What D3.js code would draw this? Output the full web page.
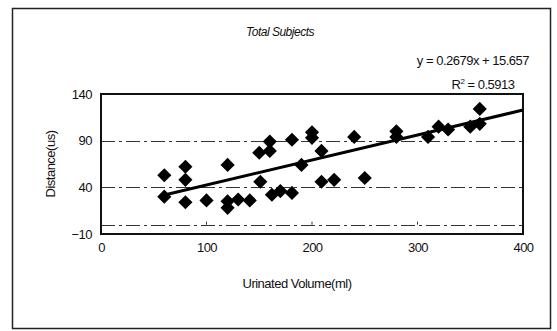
<!DOCTYPE html>
<html>
<head>
<meta charset="utf-8">
<script src="https://cdn.jsdelivr.net/npm/d3@7"></script>
<style>
  body { margin: 0; background: #fff; }
  text { font-family: "Liberation Sans", Arial, sans-serif; fill: #111; letter-spacing: -0.5px; }
</style>
</head>
<body>
<div id="chart"></div>
<script>
// data
var volume = [60, 60, 80, 80, 80, 100, 120, 120, 120, 130, 141, 150, 151, 160, 160, 162,
  170, 181, 181, 190, 200, 200, 209, 209, 221, 240, 250, 280, 280, 310, 320, 329, 350, 359, 359];
var distance = [53, 30, 62, 48, 24, 26, 64, 25, 18, 27, 26, 77, 46, 89, 79, 32,
  36, 91, 34, 64, 99, 93, 79, 46, 48, 94, 50, 100, 94, 94, 105, 102, 105, 124, 108];
var xTicks = [0, 100, 200, 300, 400];
var yTicks = [-10, 40, 90, 140];
var gridVals = [0, 40, 90];
var slope = 0.2679, intercept = 15.657;

var svgWidth = 557, svgHeight = 331,
  plot = {left: 101, right: 523, top: 94, bottom: 234};

var svg = d3.select('#chart').append('svg')
  .attr('width', svgWidth)
  .attr('height', svgHeight);

// outer frame
svg.append('rect')
  .attr('x', 12.5).attr('y', 8.5)
  .attr('width', 538).attr('height', 320)
  .attr('fill', 'none')
  .attr('stroke', '#222')
  .attr('stroke-width', 1.5);

var x = d3.scaleLinear().domain([0, 400]).range([plot.left, plot.right]);
var y = d3.scaleLinear().domain([-10, 140]).range([plot.bottom, plot.top]);

// dash-dot gridlines
svg.selectAll('.grid')
  .data(gridVals)
  .enter().append('line')
  .attr('x1', plot.left).attr('x2', plot.right)
  .attr('y1', function(d) { return Math.round(y(d)) + 0.5; })
  .attr('y2', function(d) { return Math.round(y(d)) + 0.5; })
  .attr('stroke', '#333')
  .attr('stroke-width', 1)
  .attr('stroke-dasharray', '14,4,3,4');

// small ticks on the zero line
svg.selectAll('.ztick')
  .data(xTicks.slice(1, -1))
  .enter().append('line')
  .attr('x1', function(d) { return x(d); })
  .attr('x2', function(d) { return x(d); })
  .attr('y1', y(0)).attr('y2', y(0) - 3)
  .attr('stroke', '#333');

// plot border
svg.append('rect')
  .attr('x', plot.left).attr('y', plot.top)
  .attr('width', plot.right - plot.left)
  .attr('height', plot.bottom - plot.top)
  .attr('fill', 'none')
  .attr('stroke', '#111')
  .attr('stroke-width', 2);

// axes (labels only)
var xAxis = svg.append('g')
  .attr('transform', 'translate(0,' + plot.bottom + ')')
  .call(d3.axisBottom(x).tickValues(xTicks).tickSize(0).tickPadding(9));
var yAxis = svg.append('g')
  .attr('transform', 'translate(' + plot.left + ',0)')
  .call(d3.axisLeft(y).tickValues(yTicks).tickSize(0).tickPadding(9)
    .tickFormat(function(d) { return d < 0 ? '\u2212' + Math.abs(d) : d; }));
[xAxis, yAxis].forEach(function(a) {
  a.select('.domain').remove();
  a.selectAll('text')
    .style('font-family', '"Liberation Sans", Arial, sans-serif')
    .style('font-size', '13px')
    .attr('fill', '#111');
});

// trendline
var lineData = [d3.min(volume), 400].map(function(v) {
  return [v, slope * v + intercept];
});
svg.append('path')
  .datum(lineData)
  .attr('d', d3.line()
    .x(function(d) { return x(d[0]); })
    .y(function(d) { return y(d[1]); }))
  .attr('stroke', '#000')
  .attr('stroke-width', 3)
  .attr('fill', 'none');

// diamonds
var diamond = d3.symbol().type(d3.symbolSquare).size(100);
svg.selectAll('.pt')
  .data(volume)
  .enter().append('path')
  .attr('d', diamond)
  .attr('transform', function(d, i) {
    return 'translate(' + x(d) + ',' + y(distance[i]) + ') rotate(45)';
  })
  .attr('fill', '#000');

// titles
svg.append('text')
  .attr('x', 280).attr('y', 36)
  .attr('text-anchor', 'middle')
  .style('font-size', '12px')
  .style('font-style', 'italic')
  .text('Total Subjects');

svg.append('text')
  .attr('x', 529).attr('y', 65)
  .attr('text-anchor', 'end')
  .style('font-size', '13px')
  .text('y = 0.2679x + 15.657');

var r2 = svg.append('text')
  .attr('x', 483).attr('y', 89)
  .attr('text-anchor', 'middle')
  .style('font-size', '13px');
r2.append('tspan').text('R');
r2.append('tspan').attr('dy', -5).style('font-size', '8px').text('2');
r2.append('tspan').attr('dy', 5).text(' = 0.5913');

svg.append('text')
  .attr('transform', 'translate(55,' + ((plot.top + plot.bottom) / 2) + ') rotate(-90)')
  .attr('text-anchor', 'middle')
  .style('font-size', '13px')
  .text('Distance(us)');

svg.append('text')
  .attr('x', (plot.left + plot.right) / 2 - 15).attr('y', 288)
  .attr('text-anchor', 'middle')
  .style('font-size', '13px')
  .text('Urinated Volume(ml)');
</script>
</body>
</html>
